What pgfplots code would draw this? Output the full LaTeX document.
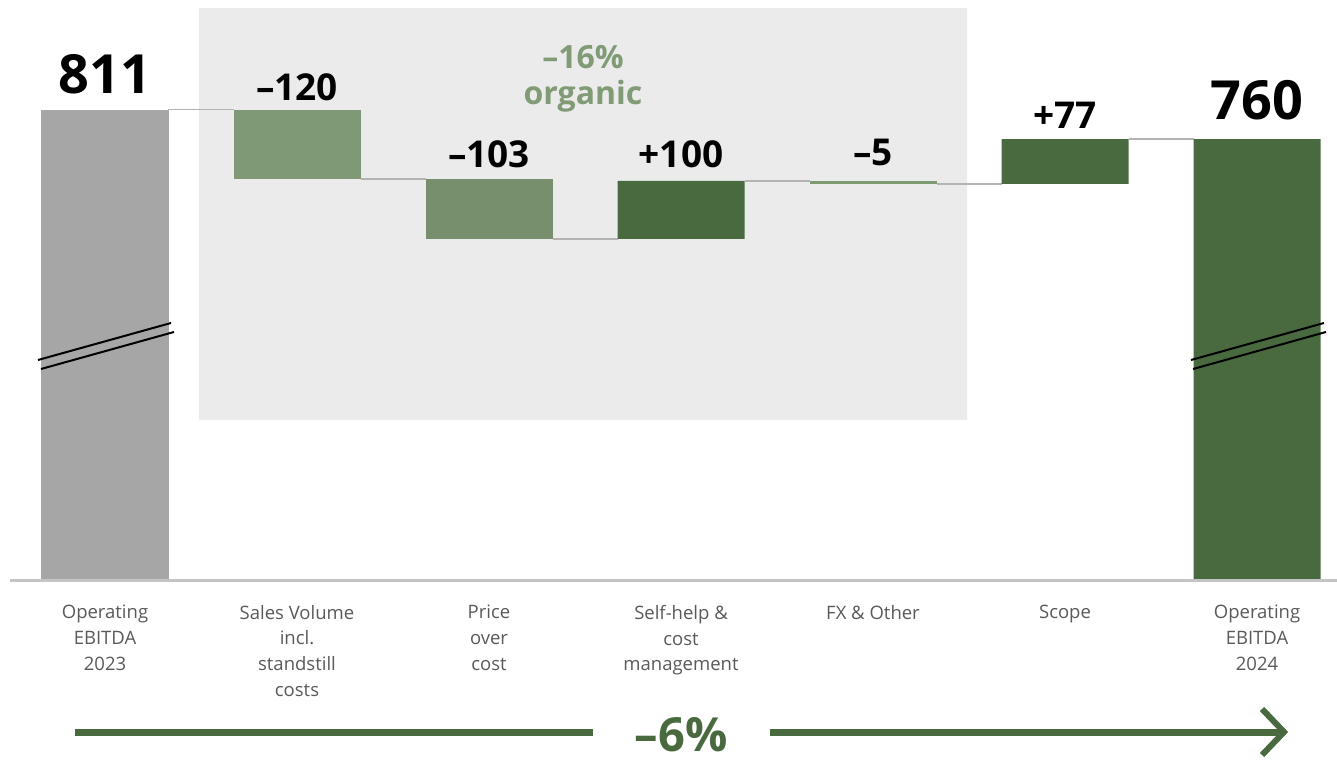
\documentclass[border=0pt]{standalone}
\usepackage{fontspec}
\setmainfont{Open Sans}
\usepackage{pgfplots}
\pgfplotsset{compat=1.18}
\usepackage{pgfplotstable}
\definecolor{gbar}{HTML}{A6A6A6}
\definecolor{lgA}{HTML}{7F9876}
\definecolor{lgB}{HTML}{778F6D}
\definecolor{dg}{HTML}{486A3E}
\definecolor{fxg}{HTML}{7E9A73}
\definecolor{orgc}{HTML}{809B76}
\definecolor{boxc}{HTML}{EBEBEB}
\definecolor{conn}{HTML}{B3B3B3}
\definecolor{basec}{HTML}{C4C4C4}
\definecolor{labc}{HTML}{595959}

\pgfplotstableread{
x base total sv price dark fx
0 0   811 0   0   0   0
1 691 0   120 0   0   0
2 588 0   0   103 0   0
3 588 0   0   0   100 0
4 683 0   0   0   0   5
5 683 0   0   0   77  0
6 0   0   0   0   760 0
}\wf

\newcommand\bigfont{\bfseries\fontsize{54}{54}\selectfont}
\newcommand\midfont{\bfseries\fontsize{37}{37}\selectfont}
\tikzset{vl/.style={anchor=south, inner sep=0pt}}

\pgfplotsset{common/.style={
  scale only axis, width=1337pt, height=580pt, at={(0,0)}, anchor=south west,
  xmin=-0.546875, xmax=6.416667, ymin=0, ymax=1000,
  axis line style={draw=none}, major tick length=0pt, ytick=\empty,
  clip=false}}

\begin{document}
\begin{tikzpicture}[x=1pt,y=1pt]
% background box and connectors
\begin{axis}[common, xtick=\empty]
\addplot[fill=boxc, draw=none] coordinates {(0.49,276) (4.49,276) (4.49,986) (0.49,986) (0.49,276)};
\addplot[conn, line width=1.6pt, unbounded coords=jump] coordinates {
(0.3307,811) (0.6693,811) (1,nan)
(1.3307,691) (1.6693,691) (2,nan)
(2.3307,588) (2.6693,588) (3,nan)
(3.3307,688) (3.6693,688) (4,nan)
(4.3307,683) (4.6693,683) (5,nan)
(5.3307,760) (5.6693,760)};
\end{axis}
% bars
\begin{axis}[common, ybar stacked, bar width=0.6615,
  xtick={0,1,2,3,4,5,6},
  xticklabels={{Operating\\EBITDA\\2023},{Sales Volume\\incl.\\standstill\\costs},{Price\\over\\cost},{Self-help \&\\cost\\management},{FX \& Other},{Scope},{Operating\\EBITDA\\2024}},
  xticklabel style={font=\fontsize{18.5}{25.7}\selectfont, text=labc, align=center, anchor=north, inner sep=0pt, yshift=-25pt}]
\addplot[draw=none, fill=white, fill opacity=0] table[x=x,y=base]{\wf};
\addplot[draw=none, fill=gbar] table[x=x,y=total]{\wf};
\addplot[draw=none, fill=lgA] table[x=x,y=sv]{\wf};
\addplot[draw=none, fill=lgB] table[x=x,y=price]{\wf};
\addplot[draw=none, fill=dg] table[x=x,y=dark]{\wf};
\addplot[draw=none, fill=fxg] table[x=x,y=fx]{\wf};
\end{axis}
% value labels (same geometry, plain axis)
\begin{axis}[common, xtick=\empty]
\node[vl, font=\bigfont] at (axis cs:0,811) [yshift=15pt] {811};
\node[vl, font=\midfont] at (axis cs:1,811) [yshift=9pt] {–120};
\node[vl, font=\midfont] at (axis cs:2,691) [yshift=11pt] {–103};
\node[vl, font=\midfont] at (axis cs:3,688) [yshift=13pt] {+100};
\node[vl, font=\midfont] at (axis cs:4,688) [yshift=15pt] {–5};
\node[vl, font=\midfont] at (axis cs:5,760) [yshift=10pt] {+77};
\node[vl, font=\bigfont] at (axis cs:6,760) [yshift=19pt] {760};
\end{axis}
% decorations in pixel coordinates (x right, y down from top)
\begin{scope}[yshift=580pt, y=-1pt]
\draw[basec, line width=3pt] (10,580) -- (1337,580);
\draw[black, line width=2pt] (38,360) -- (171,323) (41,369) -- (174,332);
\draw[black, line width=2pt] (1191,360) -- (1324,323) (1193,369) -- (1326,332);
\node[anchor=base, inner sep=0pt, text=orgc, font=\bfseries\fontsize{32}{32}\selectfont] at (583,69) {–16\%};
\node[anchor=base, inner sep=0pt, text=orgc, font=\bfseries\fontsize{32}{32}\selectfont] at (583,105) {organic};
\fill[dg] (75,728.5) rectangle (593,735.5);
\fill[dg] (770,728.5) rectangle (1280,735.5);
\draw[dg, line width=6pt, miter limit=10] (1262,709) -- (1284,732) -- (1262,755);
\node[anchor=base, inner sep=0pt, text=dg, font=\bfseries\fontsize{47}{47}\selectfont] at (681,751) {–6\%};
\end{scope}
\pgfresetboundingbox
\path (0,-180) rectangle (1337,580);
\end{tikzpicture}
\end{document}
